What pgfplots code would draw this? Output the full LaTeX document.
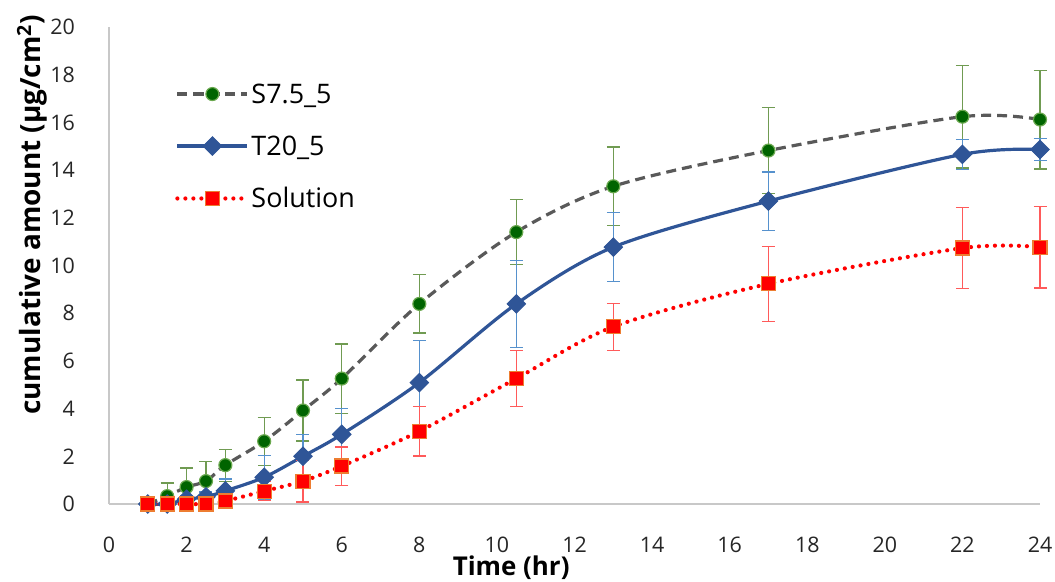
\documentclass[border=0pt]{standalone}
\usepackage{pgfplots}
\pgfplotsset{compat=1.18}
\usepackage{fontspec}
\setmainfont{Open Sans}
\definecolor{gline}{RGB}{89,89,89}
\definecolor{gfill}{RGB}{0,100,0}
\definecolor{gedge}{RGB}{106,168,79}
\definecolor{gerr}{RGB}{112,155,82}
\definecolor{bline}{RGB}{47,85,151}
\definecolor{berr}{RGB}{86,145,205}
\definecolor{rfill}{RGB}{255,0,0}
\definecolor{redge}{RGB}{237,125,49}
\definecolor{rerr}{RGB}{255,90,90}
\definecolor{axgray}{RGB}{200,200,200}
\begin{document}
\begin{tikzpicture}
\begin{axis}[
  name=ax,
  scale only axis,
  width=931bp, height=477bp,
  xmin=0, xmax=24, ymin=0, ymax=20,
  xtick={0,2,...,24}, ytick={0,2,...,20},
  axis x line=bottom, axis y line=left,
  axis line style={-, draw=axgray, line width=1.5bp},
  major tick length=0pt,
  clip=false,
  /pgf/number format/assume math mode=true,
  tick label style={font=\fontsize{21.5}{24}\selectfont, text=black!85, inner sep=0pt},
  xticklabel style={anchor=center, yshift=-41bp},
  yticklabel style={anchor=east, xshift=-34bp},
  xlabel={\textbf{Time (hr)}},
  ylabel={\textbf{cumulative amount (µg/cm\textsuperscript{2})}},
  ylabel style={font=\fontsize{28}{32}\selectfont},
  xlabel style={font=\fontsize{26}{30}\selectfont, at={(axis description cs:0.432,-0.1509)}, anchor=base, inner sep=0pt},
  ylabel style={at={(axis description cs:-0.0827,0.606)}, anchor=center, inner sep=0pt},
  legend style={at={(axis description cs:0.071,0.886)}, anchor=north west, draw=none, fill=none,
    inner sep=0pt, font=\fontsize{27}{30}\selectfont, row sep=27bp},
  legend cell align=left,
  legend image code/.code={\draw[mark repeat=2,mark phase=2] plot coordinates {(0bp,0bp) (35bp,0bp) (70bp,0bp)};},
]
% S7.5_5
\addplot[color=gline, line width=3.2bp, dash pattern=on 10bp off 6bp, smooth, tension=0.5,
  mark=*, mark size=6.5bp, mark options={solid, fill=gfill, draw=gedge, line width=1.2bp},
  error bars/.cd, y dir=both, y explicit,
  error bar style={color=gerr, line width=1.2bp, solid},
  error mark options={color=gerr, line width=1.2bp, mark size=6.5bp, solid, rotate=90}]
coordinates {
(1,0) +- (0,0.1)
(1.5,0.33) +- (0,0.55)
(2,0.71) +- (0,0.8)
(2.5,0.96) +- (0,0.83)
(3,1.63) +- (0,0.67)
(4,2.63) +- (0,1.0)
(5,3.92) +- (0,1.28)
(6,5.26) +- (0,1.45)
(8,8.39) +- (0,1.22)
(10.5,11.40) +- (0,1.37)
(13,13.32) +- (0,1.65)
(17,14.82) +- (0,1.8)
(22,16.24) +- (0,2.15)
(24,16.12) +- (0,2.07)
};
\addlegendentry{S7.5\_5}
% T20_5
\addplot[color=bline, line width=3.2bp, solid, smooth, tension=0.5,
  mark=square*, mark size=6.5bp, mark options={solid, rotate=45, fill=bline, draw=bline, line width=1bp},
  error bars/.cd, y dir=both, y explicit,
  error bar style={color=berr, line width=1.2bp, solid},
  error mark options={color=berr, line width=1.2bp, mark size=6.5bp, solid, rotate=90}]
coordinates {
(1,0) +- (0,0.1)
(1.5,0) +- (0,0.1)
(2,0.2) +- (0,0.15)
(2.5,0.3) +- (0,0.2)
(3,0.55) +- (0,0.5)
(4,1.12) +- (0,0.92)
(5,2.0) +- (0,0.92)
(6,2.92) +- (0,1.1)
(8,5.09) +- (0,1.75)
(10.5,8.39) +- (0,1.83)
(13,10.77) +- (0,1.45)
(17,12.70) +- (0,1.22)
(22,14.66) +- (0,0.63)
(24,14.86) +- (0,0.46)
};
\addlegendentry{T20\_5}
% Solution
\addplot[color=rfill, line width=4.2bp, dash pattern=on 0bp off 8bp, line cap=round, smooth, tension=0.5,
  mark=square*, mark size=7bp, mark options={solid, fill=rfill, draw=redge, line width=1.2bp},
  error bars/.cd, y dir=both, y explicit,
  error bar style={color=rerr, line width=1.2bp, solid, line cap=butt},
  error mark options={color=rerr, line width=1.2bp, mark size=6.5bp, solid, rotate=90}]
coordinates {
(1,0) +- (0,0.02)
(1.5,0) +- (0,0.05)
(2,0) +- (0,0.05)
(2.5,0) +- (0,0.05)
(3,0.13) +- (0,0.1)
(4,0.54) +- (0,0.4)
(5,0.96) +- (0,0.88)
(6,1.59) +- (0,0.8)
(8,3.05) +- (0,1.04)
(10.5,5.26) +- (0,1.17)
(13,7.43) +- (0,0.98)
(17,9.23) +- (0,1.57)
(22,10.73) +- (0,1.69)
(24,10.77) +- (0,1.71)
};
\addlegendentry{Solution}
\end{axis}
\pgfresetboundingbox
\path[use as bounding box] ([xshift=-109bp,yshift=-78bp]ax.south west) rectangle ([xshift=15bp,yshift=27bp]ax.north east);
\end{tikzpicture}
\end{document}
